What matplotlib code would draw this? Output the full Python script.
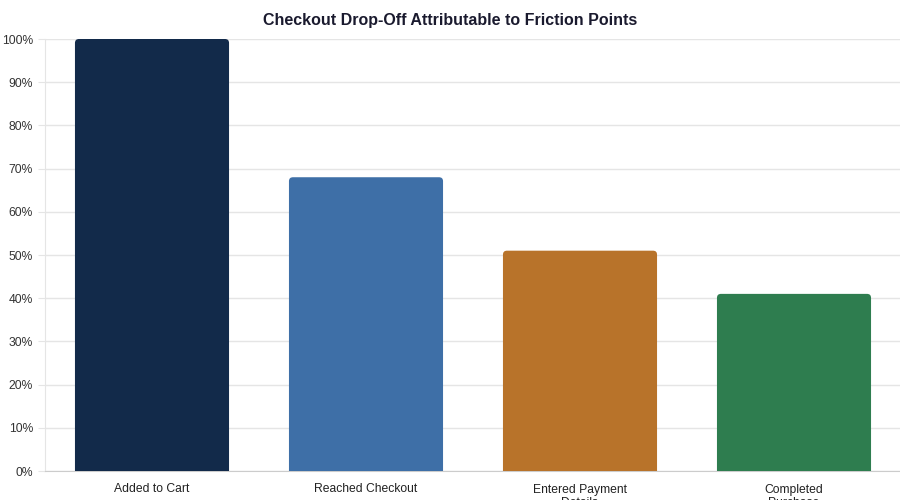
import matplotlib
matplotlib.use("Agg")
import matplotlib.pyplot as plt
from matplotlib.path import Path
from matplotlib.patches import PathPatch
from matplotlib.ticker import FuncFormatter, MultipleLocator

categories = ["Added to Cart", "Reached Checkout", "Entered Payment\nDetails", "Completed\nPurchase"]
values = [100, 68, 51, 41]
colors = ["#122a4a", "#3e6fa7", "#b8732a", "#2e7d4f"]
title = "Checkout Drop-Off Attributable to Friction Points"

plt.rcParams['font.family'] = ['Liberation Sans', 'DejaVu Sans']

fig = plt.figure(figsize=(9, 5), dpi=100)
ax = fig.add_axes([45/900, 29/500, 856/900, (471-39)/500])

x = list(range(len(categories)))
bars = ax.bar(x, values, width=0.72, color=colors)
ax.set_xlim(-0.5, len(categories) - 0.5)
ax.set_ylim(0, 100)

# replace bars with rounded-top versions
fig.canvas.draw()
r_px = 4
ppx = ax.transData.inverted()
x0d, y0d = ppx.transform((0, 0))
x1d, y1d = ppx.transform((r_px, r_px))
rx, ry = abs(x1d - x0d), abs(y1d - y0d)
for b, c in zip(bars, colors):
    bx, bw, bh = b.get_x(), b.get_width(), b.get_height()
    b.set_visible(False)
    verts = [(bx, 0), (bx, bh - ry), (bx, bh), (bx + rx, bh),
             (bx + bw - rx, bh), (bx + bw, bh), (bx + bw, bh - ry),
             (bx + bw, 0), (bx, 0)]
    codes = [Path.MOVETO, Path.LINETO, Path.CURVE3, Path.CURVE3,
             Path.LINETO, Path.CURVE3, Path.CURVE3, Path.LINETO, Path.CLOSEPOLY]
    ax.add_patch(PathPatch(Path(verts, codes), facecolor=c, edgecolor='none', zorder=3))

ax.yaxis.set_major_locator(MultipleLocator(10))
ax.yaxis.set_major_formatter(FuncFormatter(lambda v, p: f"{int(v)}%"))
ax.grid(axis='y', color='#e5e5e5', linewidth=1, zorder=0)
ax.set_axisbelow(True)
ax.set_xticks(x)
ax.set_xticklabels(categories, fontsize=8.7, color='#222222', linespacing=1.2)
ax.tick_params(axis='x', length=0, pad=9)
ax.tick_params(axis='y', length=5, color='#e5e5e5', labelsize=8.7, labelcolor='#333333', pad=3.6)
for s in ['top', 'right']:
    ax.spines[s].set_visible(False)
ax.spines['left'].set_color('#e5e5e5')
ax.spines['bottom'].set_color('#cccccc')

fig.text(450/900, 1 - 20/500, title, ha='center', va='center', fontsize=11.5,
         fontweight='bold', color='#1a1a2e')

fig.savefig("out.png", dpi=100)
